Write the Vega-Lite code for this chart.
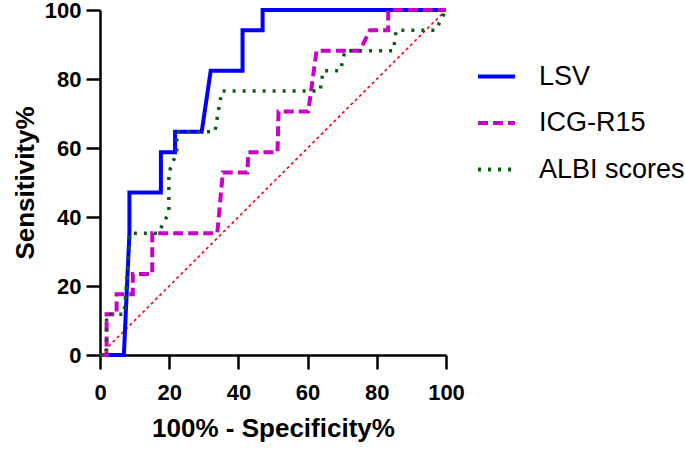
{
  "$schema": "https://vega.github.io/schema/vega-lite/v6.json",
  "width": 346,
  "height": 345,
  "autosize": {"type": "none"},
  "padding": {"left": 100, "top": 10, "right": 239, "bottom": 94},
  "background": "white",
  "config": {
    "view": {"stroke": null},
    "axis": {
      "grid": false,
      "ticks": true,
      "tickSize": 14,
      "tickColor": "black",
      "tickWidth": 2.5,
      "domainColor": "black",
      "domainWidth": 2.5,
      "labelFlush": false,
      "labelFont": "Liberation Sans",
      "labelFontWeight": "bold",
      "labelFontSize": 22,
      "labelColor": "black",
      "titleFont": "Liberation Sans",
      "titleFontWeight": "bold",
      "titleFontSize": 26,
      "titleColor": "black"
    },
    "legend": {
      "orient": "none",
      "legendX": 376,
      "legendY": 46,
      "padding": 0,
      "labelFont": "Liberation Sans",
      "labelFontSize": 27,
      "labelColor": "black",
      "labelOffset": 22,
      "rowPadding": 12.5,
      "symbolType": "stroke",
      "symbolSize": 1369,
      "symbolStrokeWidth": 4,
      "title": null
    }
  },
  "datasets": {
    "roc": [
      {"s": "LSV", "i": 0, "x": 0, "y": 0},
      {"s": "LSV", "i": 1, "x": 6.9, "y": 0},
      {"s": "LSV", "i": 2, "x": 8.5, "y": 35.3},
      {"s": "LSV", "i": 3, "x": 8.5, "y": 47.1},
      {"s": "LSV", "i": 4, "x": 17.6, "y": 47.1},
      {"s": "LSV", "i": 5, "x": 17.6, "y": 58.8},
      {"s": "LSV", "i": 6, "x": 21.7, "y": 58.8},
      {"s": "LSV", "i": 7, "x": 21.7, "y": 64.7},
      {"s": "LSV", "i": 8, "x": 29.4, "y": 64.7},
      {"s": "LSV", "i": 9, "x": 32, "y": 82.4},
      {"s": "LSV", "i": 10, "x": 41.2, "y": 82.4},
      {"s": "LSV", "i": 11, "x": 41.2, "y": 94.1},
      {"s": "LSV", "i": 12, "x": 47, "y": 94.1},
      {"s": "LSV", "i": 13, "x": 47, "y": 100},
      {"s": "LSV", "i": 14, "x": 100, "y": 100},
      {"s": "ICG-R15", "i": 0, "x": 0, "y": 0},
      {"s": "ICG-R15", "i": 1, "x": 1.9, "y": 0},
      {"s": "ICG-R15", "i": 2, "x": 1.9, "y": 11.8},
      {"s": "ICG-R15", "i": 3, "x": 4.8, "y": 11.8},
      {"s": "ICG-R15", "i": 4, "x": 4.8, "y": 17.6},
      {"s": "ICG-R15", "i": 5, "x": 9.5, "y": 17.6},
      {"s": "ICG-R15", "i": 6, "x": 9.5, "y": 23.5},
      {"s": "ICG-R15", "i": 7, "x": 15.1, "y": 23.5},
      {"s": "ICG-R15", "i": 8, "x": 15.1, "y": 35.3},
      {"s": "ICG-R15", "i": 9, "x": 33.9, "y": 35.3},
      {"s": "ICG-R15", "i": 10, "x": 35.5, "y": 52.9},
      {"s": "ICG-R15", "i": 11, "x": 42.6, "y": 52.9},
      {"s": "ICG-R15", "i": 12, "x": 42.9, "y": 58.8},
      {"s": "ICG-R15", "i": 13, "x": 51.3, "y": 58.8},
      {"s": "ICG-R15", "i": 14, "x": 51.6, "y": 70.6},
      {"s": "ICG-R15", "i": 15, "x": 60.2, "y": 70.6},
      {"s": "ICG-R15", "i": 16, "x": 62.6, "y": 88.2},
      {"s": "ICG-R15", "i": 17, "x": 75.1, "y": 88.2},
      {"s": "ICG-R15", "i": 18, "x": 78, "y": 94.1},
      {"s": "ICG-R15", "i": 19, "x": 83.3, "y": 94.1},
      {"s": "ICG-R15", "i": 20, "x": 83.3, "y": 100},
      {"s": "ICG-R15", "i": 21, "x": 100, "y": 100},
      {"s": "ALBI scores", "i": 0, "x": 0, "y": 0},
      {"s": "ALBI scores", "i": 1, "x": 1.9, "y": 0},
      {"s": "ALBI scores", "i": 2, "x": 1.9, "y": 11.8},
      {"s": "ALBI scores", "i": 3, "x": 7, "y": 11.8},
      {"s": "ALBI scores", "i": 4, "x": 8.7, "y": 35.3},
      {"s": "ALBI scores", "i": 5, "x": 16.8, "y": 35.3},
      {"s": "ALBI scores", "i": 6, "x": 19.9, "y": 41.2},
      {"s": "ALBI scores", "i": 7, "x": 19.9, "y": 52.9},
      {"s": "ALBI scores", "i": 8, "x": 22.2, "y": 58.8},
      {"s": "ALBI scores", "i": 9, "x": 22.2, "y": 64.7},
      {"s": "ALBI scores", "i": 10, "x": 33.2, "y": 64.7},
      {"s": "ALBI scores", "i": 11, "x": 35.2, "y": 76.5},
      {"s": "ALBI scores", "i": 12, "x": 63.6, "y": 76.5},
      {"s": "ALBI scores", "i": 13, "x": 64.5, "y": 82.4},
      {"s": "ALBI scores", "i": 14, "x": 69.5, "y": 82.4},
      {"s": "ALBI scores", "i": 15, "x": 70.8, "y": 88.2},
      {"s": "ALBI scores", "i": 16, "x": 84.8, "y": 88.2},
      {"s": "ALBI scores", "i": 17, "x": 85.6, "y": 94.1},
      {"s": "ALBI scores", "i": 18, "x": 97, "y": 94.1},
      {"s": "ALBI scores", "i": 19, "x": 100, "y": 100}
    ],
    "diag": [
      {"x": 0, "y": 0},
      {"x": 100, "y": 100}
    ]
  },
  "layer": [
    {
      "data": {"name": "diag"},
      "mark": {"type": "line", "color": "#FF0000", "strokeWidth": 1.6, "strokeDash": [3, 3], "clip": false},
      "encoding": {
        "x": {"field": "x", "type": "quantitative", "scale": {"domain": [0, 100], "nice": false}, "axis": {"values": [0, 20, 40, 60, 80, 100], "title": "100% - Specificity%", "labelPadding": 13, "titlePadding": 12}},
        "y": {"field": "y", "type": "quantitative", "scale": {"domain": [0, 100], "nice": false}, "axis": {"values": [0, 20, 40, 60, 80, 100], "title": "Sensitivity%", "labelPadding": 5, "titlePadding": 6}}
      }
    },
    {
      "data": {"name": "roc"},
      "transform": [{"filter": "datum.s === 'LSV'"}],
      "mark": {"type": "line", "strokeWidth": 4, "strokeJoin": "miter", "clip": false},
      "encoding": {
        "x": {"field": "x", "type": "quantitative"},
        "y": {"field": "y", "type": "quantitative"},
        "order": {"field": "i", "type": "quantitative"},
        "color": {"field": "s", "type": "nominal", "scale": {"domain": ["LSV", "ICG-R15", "ALBI scores"], "range": ["#0000FF", "#C800C8", "#0A5E14"]}},
        "strokeDash": {"field": "s", "type": "nominal", "scale": {"domain": ["LSV", "ICG-R15", "ALBI scores"], "range": [[1, 0], [10, 5], [3, 7]]}}
      }
    },
    {
      "data": {"name": "roc"},
      "transform": [{"filter": "datum.s === 'ICG-R15'"}],
      "mark": {"type": "line", "strokeWidth": 4, "clip": false},
      "encoding": {
        "x": {"field": "x", "type": "quantitative"},
        "y": {"field": "y", "type": "quantitative"},
        "order": {"field": "i", "type": "quantitative"},
        "color": {"field": "s", "type": "nominal"},
        "strokeDash": {"field": "s", "type": "nominal"}
      }
    },
    {
      "data": {"name": "roc"},
      "transform": [{"filter": "datum.s === 'ALBI scores'"}],
      "mark": {"type": "line", "strokeWidth": 3.5, "clip": false},
      "encoding": {
        "x": {"field": "x", "type": "quantitative"},
        "y": {"field": "y", "type": "quantitative"},
        "order": {"field": "i", "type": "quantitative"},
        "color": {"field": "s", "type": "nominal"},
        "strokeDash": {"field": "s", "type": "nominal"}
      }
    }
  ]
}
